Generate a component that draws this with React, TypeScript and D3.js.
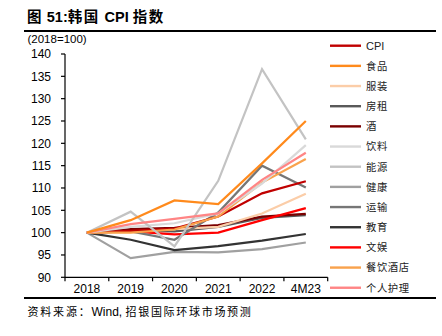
import React from "react";
import * as d3 from "d3";

const categories = ["2018", "2019", "2020", "2021", "2022", "4M23"];
const seriesNames = ["CPI", "食品", "服装", "房租", "酒", "饮料", "能源", "健康", "运输", "教育", "文娱", "餐饮酒店", "个人护理"];
const seriesColors = ["#C00000", "#FF8A1C", "#FBCDA8", "#595959", "#7A0000", "#D9D9D9", "#C3C3C3", "#A0A0A0", "#767676", "#333333", "#FF0000", "#F9A24C", "#FF8585"];
const cpi = [100, 100.4, 100.9, 103.6, 108.8, 111.5];
const food = [100, 102.8, 107.2, 106.4, 115.5, 125.0];
const clothing = [100, 100.2, 100.8, 101.3, 104.3, 108.7];
const rent = [100, 100.5, 100.3, 101.3, 103.3, 103.9];
const liquor = [100, 100.8, 101.1, 101.7, 103.6, 104.2];
const beverage = [100, 101.3, 102.1, 104.3, 111.0, 119.6];
const energy = [100, 104.7, 96.9, 111.6, 136.6, 120.9];
const health = [100, 94.3, 95.7, 95.6, 96.3, 97.8];
const transport = [100, 100.3, 98.4, 104.5, 115.0, 110.1];
const education = [100, 98.4, 96.1, 97.0, 98.2, 99.7];
const recreation = [100, 100.3, 99.6, 100.0, 102.8, 105.5];
const restaurants = [100, 100.0, 100.7, 103.6, 111.2, 116.5];
const personalCare = [100, 101.9, 103.1, 104.3, 111.8, 117.9];
const seriesValues = [cpi, food, clothing, rent, liquor, beverage, energy, health, transport, education, recreation, restaurants, personalCare];
const yTicks = [90, 95, 100, 105, 110, 115, 120, 125, 130, 135, 140];

const latin = "'Liberation Sans', Arial, sans-serif";
const cjk = "'Noto Sans CJK SC', sans-serif";

export default function App() {
  const W = 442, H = 336;
  const x0 = 65, x1 = 327.7, yTop = 54, yBot = 277.3;
  const x = d3.scaleBand<string>().domain(categories).range([x0, x1]).padding(0);
  const y = d3.scaleLinear().domain([90, 140]).range([yBot, yTop]);
  const line = d3.line<number>()
    .x((_, i) => (x(categories[i]) as number) + x.bandwidth() / 2)
    .y((v) => y(v));
  const drawOrder = [7, 9, 3, 4, 10, 2, 8, 0, 11, 5, 6, 12, 1];
  const boundaries = categories.map((c) => x(c) as number).concat([x1]);
  const legY0 = 45.7, legStep = 20.17;
  return (
    <div style={{ position: "fixed", left: 0, top: 0, width: W, height: H, background: "#fff" }}>
      <svg width={W} height={H} style={{ display: "block" }}>
        <rect width={W} height={H} fill="#fff" />
        <text y={21.5} fontWeight="bold" fontSize={14.5} fill="#000">
          <tspan x={27} fontFamily={cjk} letterSpacing={1}>图 </tspan>
          <tspan fontFamily={latin}>51:</tspan>
          <tspan fontFamily={cjk} letterSpacing={1.5}>韩国 </tspan>
          <tspan fontFamily={latin}>CPI </tspan>
          <tspan fontFamily={cjk} letterSpacing={1.5}>指数</tspan>
        </text>
        <line x1={24} x2={436} y1={31} y2={31} stroke="#000" strokeWidth={2} />
        <text x={27.5} y={43} fontFamily={latin} fontSize={11.5} fill="#000">(2018=100)</text>
        {/* y axis */}
        <line x1={x0} x2={x0} y1={yTop} y2={yBot} stroke="#000" strokeWidth={1.2} />
        {yTicks.map((t) => (
          <g key={t}>
            <line x1={x0 - 4} x2={x0} y1={y(t)} y2={y(t)} stroke="#000" strokeWidth={1.2} />
            <text x={51} y={y(t) + 4.3} textAnchor="end" fontFamily={latin} fontSize={12} fill="#000">{t}</text>
          </g>
        ))}
        {/* x axis */}
        <line x1={x0} x2={x1} y1={yBot} y2={yBot} stroke="#000" strokeWidth={1.2} />
        {boundaries.map((b, i) => (
          <line key={i} x1={b} x2={b} y1={yBot} y2={yBot + 4} stroke="#000" strokeWidth={1.2} />
        ))}
        {categories.map((c) => (
          <text key={c} x={(x(c) as number) + x.bandwidth() / 2} y={292.5} textAnchor="middle" fontFamily={latin} fontSize={12} fill="#000">{c}</text>
        ))}
        {/* series */}
        {drawOrder.map((i) => (
          <path key={seriesNames[i]} d={line(seriesValues[i]) as string} fill="none" stroke={seriesColors[i]} strokeWidth={2.2} strokeLinejoin="miter" />
        ))}
        {/* legend */}
        {seriesNames.map((n, i) => (
          <g key={n}>
            <line x1={330} x2={361} y1={legY0 + i * legStep} y2={legY0 + i * legStep} stroke={seriesColors[i]} strokeWidth={2.4} />
            <text x={366} y={legY0 + i * legStep + 3.8} fontFamily={i === 0 ? latin : cjk} fontSize={i === 0 ? 11 : 10.3} letterSpacing={i === 0 ? 0 : 0.6} fill="#222">{n}</text>
          </g>
        ))}
        <line x1={24} x2={436} y1={298} y2={298} stroke="#000" strokeWidth={2} />
        <text y={315.5} fontSize={11} fill="#000">
          <tspan x={27.5} fontFamily={cjk} letterSpacing={1.8}>资料来源：</tspan>
          <tspan fontFamily={latin} fontSize={12}>Wind, </tspan>
          <tspan fontFamily={cjk} letterSpacing={1.7}>招银国际环球市场预测</tspan>
        </text>
      </svg>
    </div>
  );
}
